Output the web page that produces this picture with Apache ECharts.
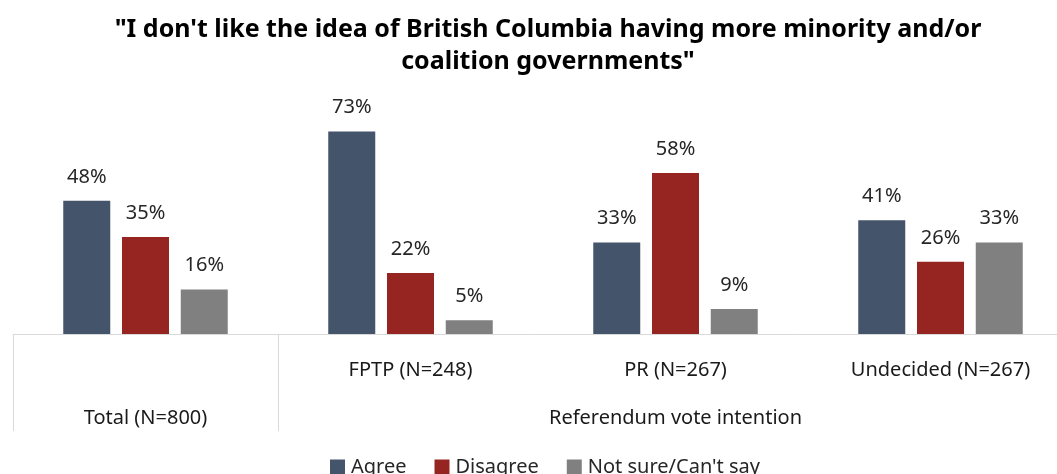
<!DOCTYPE html>
<html>
<head>
<meta charset="utf-8">
<script src="https://cdn.jsdelivr.net/npm/echarts@6/dist/echarts.min.js"></script>
<style>
  html, body { margin: 0; padding: 0; background: #fff; }
  #chart { width: 1057px; height: 474px; }
</style>
</head>
<body>
<div id="chart"></div>
<script>
// Groups along the bottom axis (inner level) and the outer grouping level
const categories = ['', 'FPTP (N=248)', 'PR (N=267)', 'Undecided (N=267)'];
const outerLabels = ['Total (N=800)', '', 'Referendum vote intention', ''];

// Share of respondents (%) for each answer
const agree = [48, 73, 33, 41];
const disagree = [35, 22, 58, 26];
const notSure = [16, 5, 9, 33];

const seriesNames = ['Agree', 'Disagree', "Not sure/Can't say"];
const colors = ['#44546A', '#962521', '#808080'];

const FONT = '"Noto Sans", sans-serif';

const chart = echarts.init(document.getElementById('chart'));

function barSeries(name, data, color) {
  return {
    name: name,
    type: 'bar',
    data: data,
    barWidth: 47,
    barGap: '25%',
    itemStyle: { color: color },
    label: {
      show: true,
      position: 'top',
      distance: 14,
      formatter: '{c}%',
      color: '#262626',
      fontSize: 20,
      fontFamily: FONT
    }
  };
}

chart.setOption({
  animation: false,
  title: {
    text: '"I don\'t like the idea of British Columbia having more minority and/or\ncoalition governments"',
    left: 548,
    top: 14,
    textAlign: 'center',
    padding: 0,
    textStyle: {
      fontFamily: FONT,
      fontWeight: 'bold',
      fontSize: 25,
      lineHeight: 32,
      color: '#000'
    }
  },
  legend: {
    top: 457,
    left: 330,
    padding: 0,
    itemWidth: 15,
    itemHeight: 15,
    itemGap: 28,
    icon: 'rect',
    textStyle: { fontFamily: FONT, fontSize: 20, color: '#262626', padding: [0, 0, 0, 1] },
    data: seriesNames
  },
  grid: { left: 13, width: 1060, top: 112, bottom: 140, outerBoundsMode: 'none' },
  xAxis: [
    {
      type: 'category',
      data: categories,
      axisLine: { lineStyle: { color: '#d9d9d9', width: 1 } },
      axisTick: {
        show: true,
        length: 97,
        interval: function (index) { return index <= 1; },
        lineStyle: { color: '#d9d9d9', width: 1 }
      },
      axisLabel: {
        interval: 0,
        margin: 26,
        color: '#1a1a1a',
        fontSize: 20,
        fontFamily: FONT
      }
    },
    {
      type: 'category',
      data: outerLabels,
      position: 'bottom',
      axisLine: { show: false },
      axisTick: { show: false },
      axisLabel: {
        interval: 0,
        margin: 74,
        color: '#1a1a1a',
        fontSize: 20,
        fontFamily: FONT
      }
    }
  ],
  yAxis: {
    type: 'value',
    min: 0,
    max: 80,
    show: false,
    splitLine: { show: false }
  },
  series: [
    barSeries(seriesNames[0], agree, colors[0]),
    barSeries(seriesNames[1], disagree, colors[1]),
    barSeries(seriesNames[2], notSure, colors[2])
  ]
});
</script>
</body>
</html>
